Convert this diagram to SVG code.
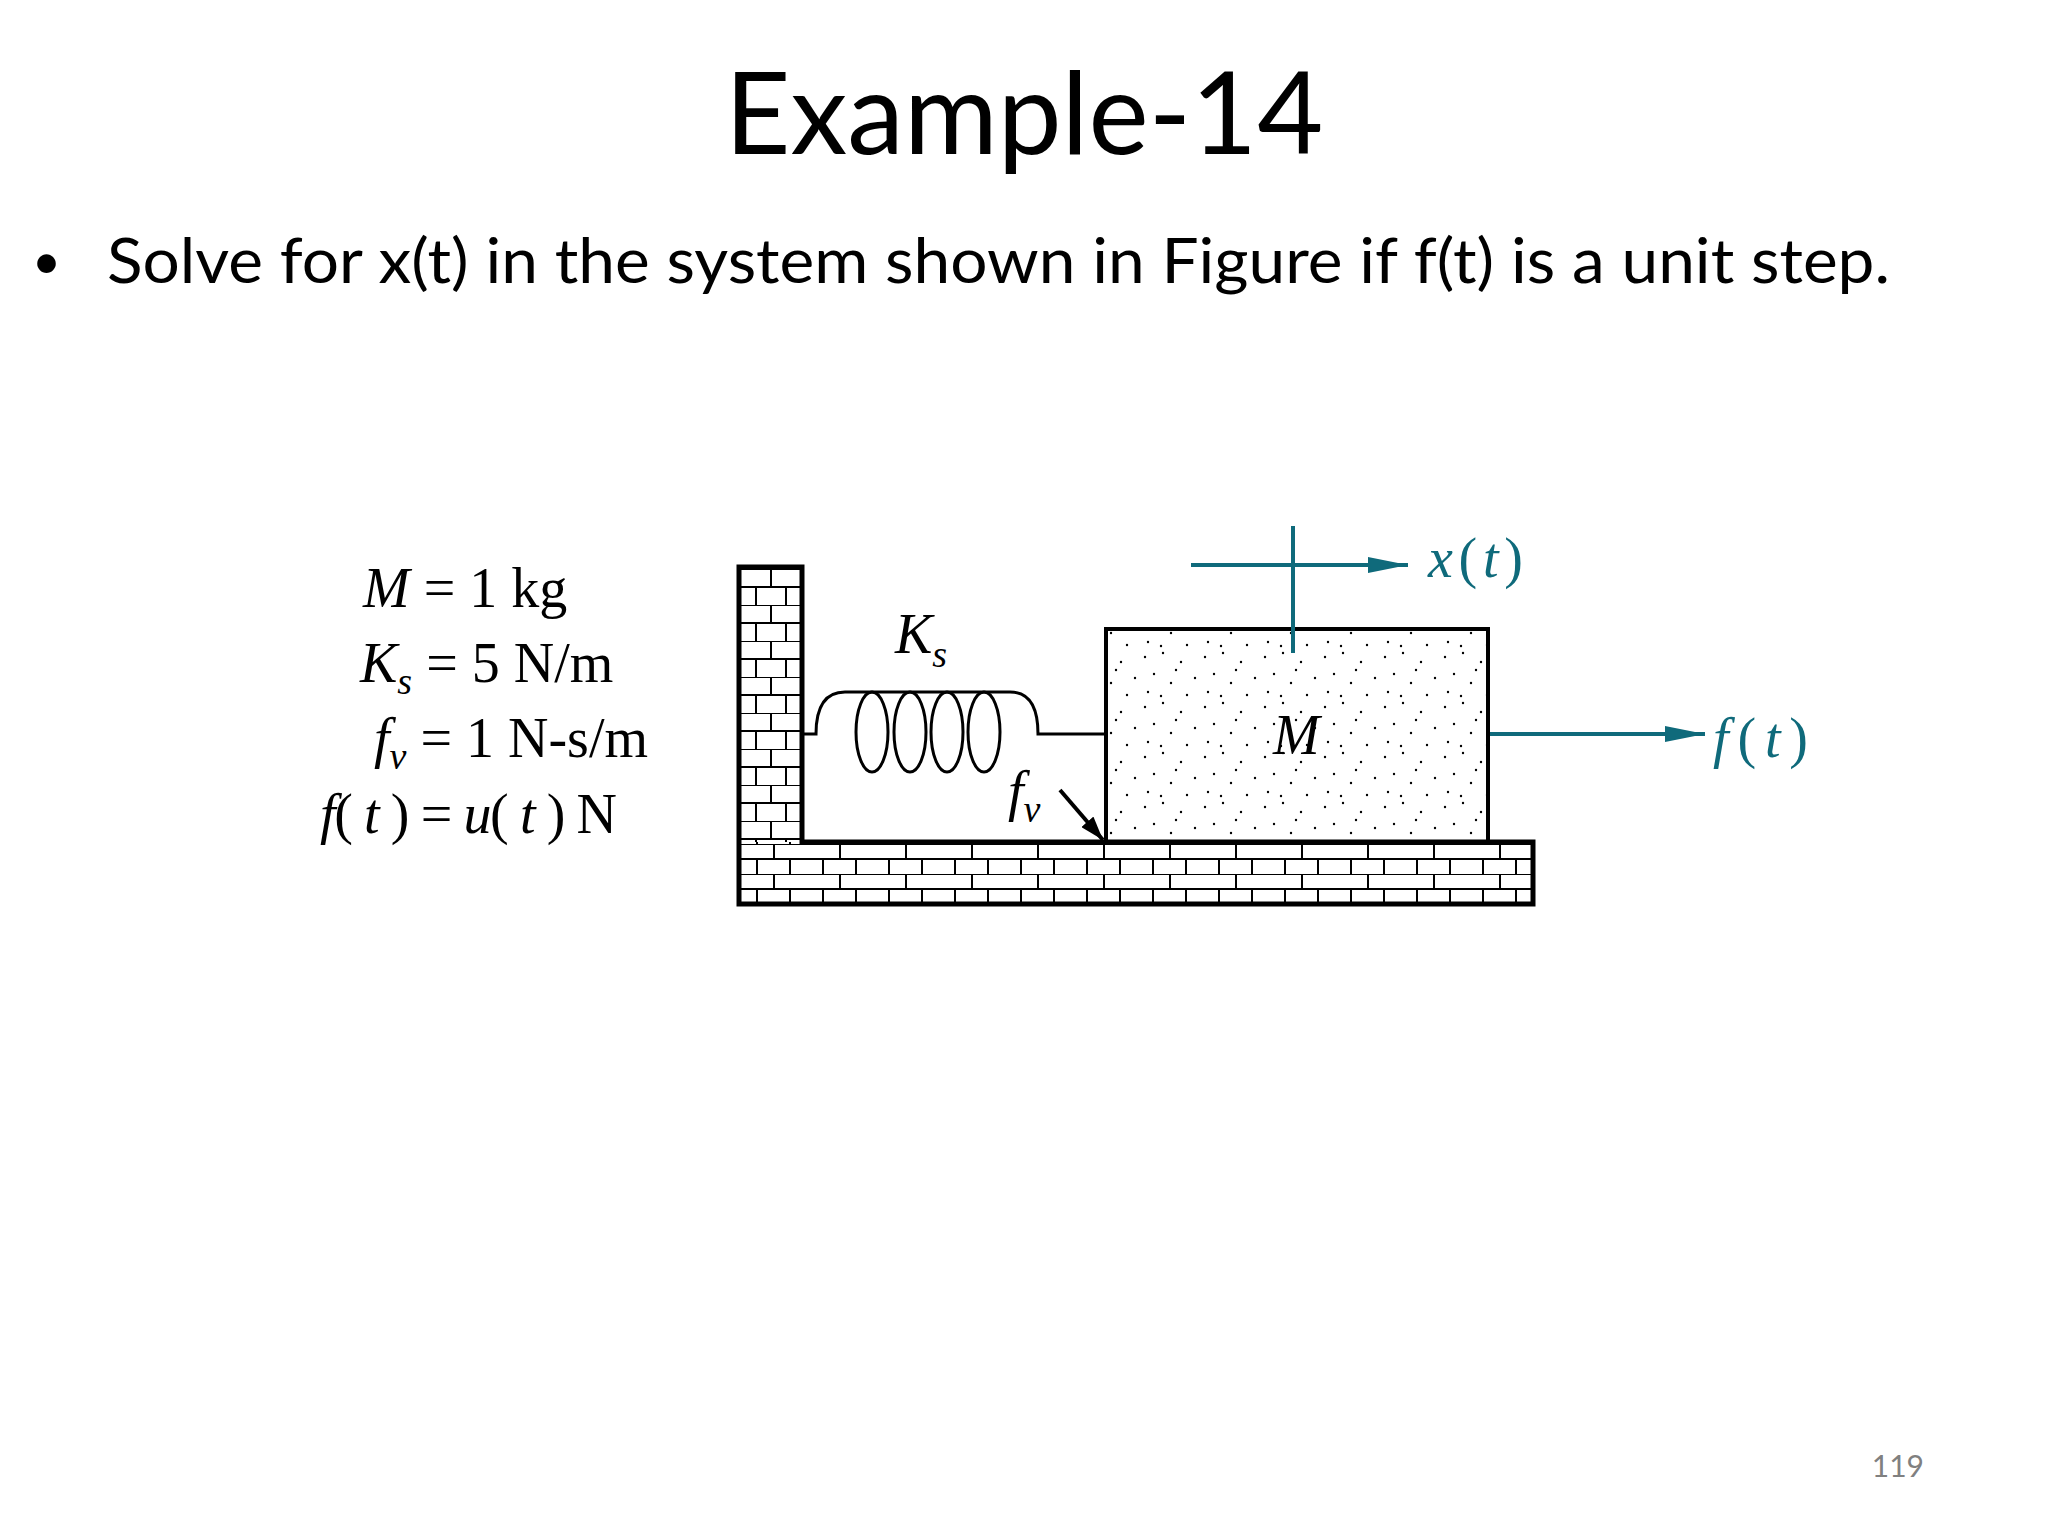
<svg xmlns="http://www.w3.org/2000/svg" width="2048" height="1536" viewBox="0 0 2048 1536">
<style>
.ser{font-family:"Liberation Serif","DejaVu Serif",serif;font-size:56px;fill:#000}
.it{font-style:italic}
.teal{fill:#0f6a7b}
.bk{stroke:#000;fill:none}
</style>
<defs>
<pattern id="brickW" x="741" y="569" width="60" height="36" patternUnits="userSpaceOnUse">
<rect width="60" height="36" fill="#fff"/>
<path d="M0 0H60M0 18H60M30 0V18M15 18V36M45 18V36" stroke="#000" stroke-width="2"/>
</pattern>
<pattern id="brickF" x="741" y="844" width="66" height="30" patternUnits="userSpaceOnUse">
<rect width="66" height="30" fill="#fff"/>
<path d="M0 0H66M0 15H66M33 0V15M16 15V30M49 15V30" stroke="#000" stroke-width="2"/>
</pattern>
<pattern id="dots" width="60" height="50" patternUnits="userSpaceOnUse">
<g fill="#000">
<circle cx="5" cy="7" r="1.2"/><circle cx="23" cy="3" r="1.2"/><circle cx="41" cy="12" r="1.2"/><circle cx="55" cy="28" r="1.2"/>
<circle cx="14" cy="24" r="1.2"/><circle cx="31" cy="33" r="1.2"/><circle cx="8" cy="42" r="1.2"/><circle cx="47" cy="45" r="1.2"/>
<circle cx="36" cy="20" r="1.2"/><circle cx="21" cy="46" r="1.2"/>
</g>
</pattern>
<marker id="ah" viewBox="0 0 10 10" refX="10" refY="5" markerWidth="10" markerHeight="4" orient="auto" markerUnits="strokeWidth" preserveAspectRatio="none"><path d="M0 0L10 5L0 10z" fill="#0f6a7b"/></marker>
<marker id="ahk" viewBox="0 0 10 10" refX="10" refY="5" markerWidth="6" markerHeight="4" orient="auto" markerUnits="strokeWidth" preserveAspectRatio="none"><path d="M0 0L10 5L0 10z" fill="#000"/></marker>
</defs>
<rect width="2048" height="1536" fill="#fff"/>
<text x="1024" y="154" text-anchor="middle" font-family="Lato,'Open Sans',sans-serif" font-size="114">Example-14</text>
<text x="32" y="279" font-family="Lato,sans-serif" font-size="50">•</text>
<text x="107" y="283" font-family="Lato,'Open Sans',sans-serif" font-size="61" textLength="1783" lengthAdjust="spacingAndGlyphs">Solve for x(t) in the system shown in Figure if f(t) is a unit step.</text>
<text x="1924" y="1477" text-anchor="end" font-family="Lato,sans-serif" font-size="30" fill="#808080">119</text>
<g id="params">
<text x="363" y="607" class="ser"><tspan class="it">M</tspan> = 1 kg</text>
<text x="360" y="682" class="ser"><tspan class="it">K</tspan><tspan class="it" font-size="38" dy="12">s</tspan><tspan dy="-12"> = 5 N/m</tspan></text>
<text x="374" y="757" class="ser"><tspan class="it">f</tspan><tspan class="it" font-size="38" dy="12">v</tspan><tspan dy="-12"> = 1 N-s/m</tspan></text>
<text x="320" y="833" class="ser" textLength="297"><tspan class="it">f</tspan>( <tspan class="it">t</tspan> ) = <tspan class="it">u</tspan>( <tspan class="it">t</tspan> ) N</text>
</g>
<g id="ground">
<path d="M739 567H802V842H1533V904H739Z" fill="url(#brickW)"/>
<rect x="739" y="842" width="794" height="62" fill="url(#brickF)"/>
<path d="M739 567H802V842H1533V904H739Z" class="bk" stroke-width="5"/>
</g>
<g id="spring" class="bk" stroke-width="3">
<path d="M802 734H816C816 712 822 692 845 692H1010C1032 692 1038 712 1038 734H1105"/>
<ellipse cx="872" cy="732" rx="16" ry="40"/>
<ellipse cx="910" cy="732" rx="16" ry="40"/>
<ellipse cx="947" cy="732" rx="16" ry="40"/>
<ellipse cx="984" cy="732" rx="16" ry="40"/>
<text x="895" y="653" class="ser it" stroke="none">K<tspan font-size="38" dy="14">s</tspan></text>
</g>
<g id="mass">
<rect x="1106" y="629" width="382" height="213" fill="url(#dots)" stroke="#000" stroke-width="4"/>
<text x="1273" y="754" class="ser it" font-size="56">M</text>
</g>
<g id="damper">
<text x="1008" y="810" class="ser it">f<tspan font-size="38" dy="12">v</tspan></text>
</g>
<g id="connectors">
<line x1="1060" y1="790" x2="1103" y2="840" stroke="#000" stroke-width="4" marker-end="url(#ahk)"/>
<line x1="1293" y1="526" x2="1293" y2="653" stroke="#0f6a7b" stroke-width="4"/>
<line x1="1191" y1="565" x2="1408" y2="565" stroke="#0f6a7b" stroke-width="4" marker-end="url(#ah)"/>
<line x1="1490" y1="734" x2="1705" y2="734" stroke="#0f6a7b" stroke-width="4" marker-end="url(#ah)"/>
</g>
<g id="labels">
<text x="1428" y="577" class="ser it teal" font-size="56" textLength="95">x<tspan font-style="normal">(</tspan>t<tspan font-style="normal">)</tspan></text>
<text x="1713" y="757" class="ser it teal" font-size="56" textLength="95">f<tspan font-style="normal">(</tspan>t<tspan font-style="normal">)</tspan></text>
</g>
</svg>
